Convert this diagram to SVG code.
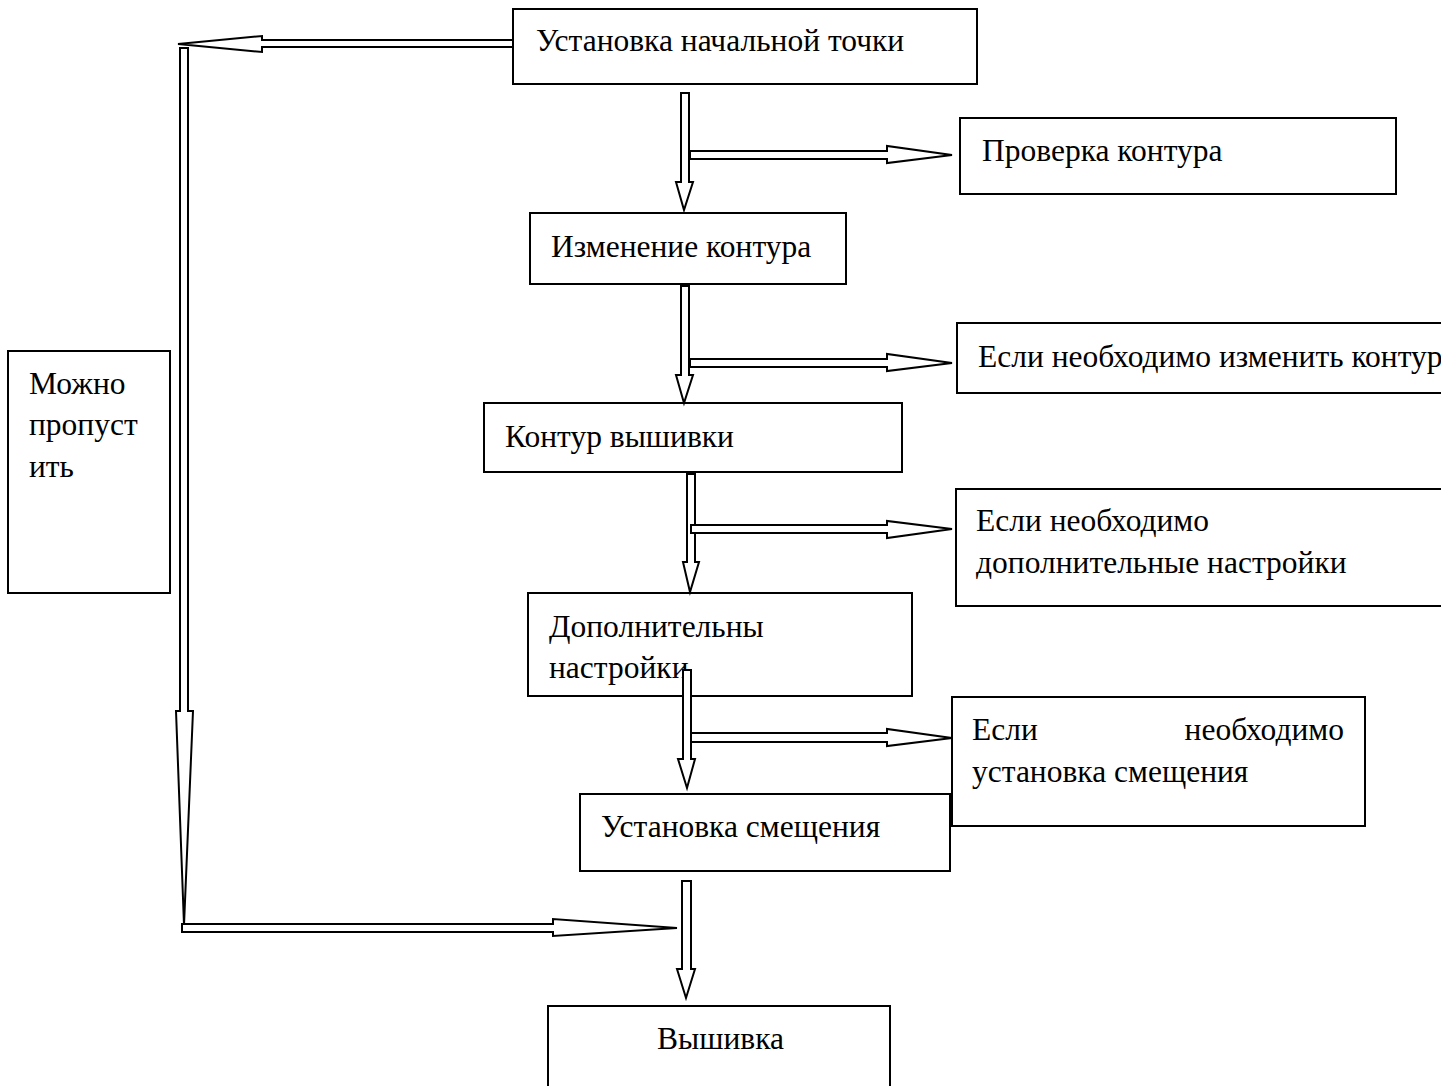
<svg xmlns="http://www.w3.org/2000/svg" width="1441" height="1086" viewBox="0 0 1441 1086">
<style>
.box{fill:#fff;stroke:#000;stroke-width:2}
.t{font-family:"Liberation Serif","Times New Roman",serif;font-size:31.5px;fill:#000}
.ar{fill:#fff;stroke:#000;stroke-width:2;stroke-linejoin:miter}
</style>
<rect width="1441" height="1086" fill="#fff"/>
<g id="n1"><rect class="box" x="513" y="9" width="464" height="75"/><text class="t" x="536" y="51">Установка начальной точки</text></g>
<g id="n2"><rect class="box" x="960" y="118" width="436" height="76"/><text class="t" x="982" y="161">Проверка контура</text></g>
<g id="n3"><rect class="box" x="530" y="213" width="316" height="71"/><text class="t" x="551" y="257">Изменение контура</text></g>
<g id="n4"><rect class="box" x="957" y="323" width="500" height="70"/><text class="t" x="978" y="367">Если необходимо изменить контур</text></g>
<g id="n5"><rect class="box" x="484" y="403" width="418" height="69"/><text class="t" x="505" y="447">Контур вышивки</text></g>
<g id="n6"><rect class="box" x="956" y="489" width="500" height="117"/><text class="t" x="976" y="531">Если необходимо</text><text class="t" x="976" y="573">дополнительные настройки</text></g>
<g id="n7"><rect class="box" x="528" y="593" width="384" height="103"/><text class="t" x="549" y="637">Дополнительны</text><text class="t" x="549" y="678">настройки</text></g>
<g id="n8"><rect class="box" x="952" y="697" width="413" height="129"/><text class="t" x="972" y="740">Если</text><text class="t" x="1344" y="740" text-anchor="end">необходимо</text><text class="t" x="972" y="782">установка смещения</text></g>
<g id="n9"><rect class="box" x="580" y="794" width="370" height="77"/><text class="t" x="601" y="837">Установка смещения</text></g>
<g id="n10"><rect class="box" x="548" y="1006" width="342" height="90"/><text class="t" x="657" y="1049">Вышивка</text></g>
<g id="n11"><rect class="box" x="8" y="351" width="162" height="242"/><text class="t" x="29" y="394">Можно</text><text class="t" x="29" y="435">пропуст</text><text class="t" x="29" y="477">ить</text></g>
<g id="connectors">
<polygon class="ar" points="513,40 262,40 262,36 178,44 262,52 262,47 513,47"/>
<polygon class="ar" points="180,48 188,48 188,711 193,711 184,925 176,711 180,711"/>
<polygon class="ar" points="182,924 553,924 553,919 677,928 553,936 553,932 182,932"/>
<polygon class="ar" points="681,93 689,93 689,182 693,182 684,210 676,182 681,182"/>
<polygon class="ar" points="690,151 887,151 887,146 952,155 887,163 887,159 690,159"/>
<polygon class="ar" points="681,286 689,286 689,375 693,375 684,403 676,375 681,375"/>
<polygon class="ar" points="690,359 887,359 887,354 952,363 887,371 887,367 690,367"/>
<polygon class="ar" points="687,474 695,474 695,562 699,562 690,592 683,562 687,562"/>
<polygon class="ar" points="691,525 887,525 887,521 952,529 887,538 887,533 691,533"/>
<polygon class="ar" points="683,670 691,670 691,759 695,759 687,788 678,759 683,759"/>
<polygon class="ar" points="691,733 887,733 887,729 952,738 887,746 887,742 691,742"/>
<polygon class="ar" points="682,881 691,881 691,969 695,969 686,998 677,969 682,969"/>
</g>
</svg>
